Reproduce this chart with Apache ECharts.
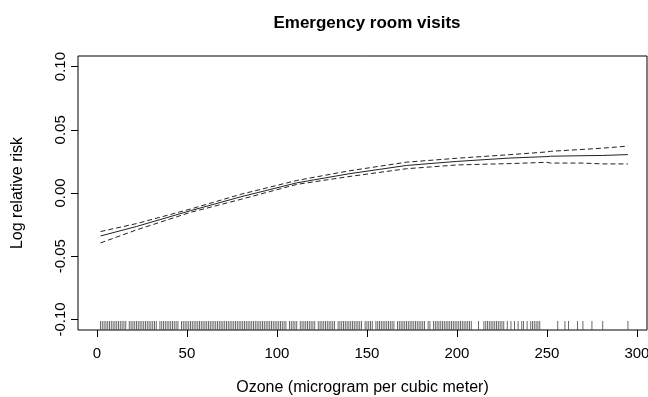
<!DOCTYPE html>
<html>
<head>
<meta charset="utf-8">
<script src="https://cdn.jsdelivr.net/npm/echarts@6/dist/echarts.min.js"></script>
<style>
html,body{margin:0;padding:0;background:#fff;}
#chart{width:648px;height:397px;}
</style>
</head>
<body>
<div id="chart"></div>
<script>
var titleText = 'Emergency room visits';
var xName = 'Ozone (microgram per cubic meter)';
var yName = 'Log relative risk';
var xTicks = [0, 50, 100, 150, 200, 250, 300];
var yTicks = [-0.10, -0.05, 0.00, 0.05, 0.10];
var X_MIN = -10.5, X_MAX = 305.6;
var Y_MIN = -0.1084, Y_MAX = 0.1084;

var ozone = [2, 22, 52, 80, 111, 140, 172, 200, 230, 250, 252, 270, 281, 295];
var center = [-0.0340, -0.0265, -0.0140, -0.0030, 0.0080, 0.0152, 0.0218, 0.0250, 0.0277, 0.0288, 0.0291, 0.0295, 0.0297, 0.0304];
var upper = [-0.0305, -0.0242, -0.0127, -0.0010, 0.0099, 0.0175, 0.0244, 0.0275, 0.0304, 0.0325, 0.0330, 0.0345, 0.0355, 0.0371];
var lower = [-0.0395, -0.0292, -0.0153, -0.0050, 0.0068, 0.0130, 0.0192, 0.0222, 0.0233, 0.0243, 0.0237, 0.0237, 0.0230, 0.0230];

var rug = [2,3,4,5,6,7,8,9,10,11,12,13,14,15,16,
18,19,20,21,22,23,24,25,26,27,28,29,30,31,32,33,
35,36,37,38,39,40,41,42,43,44,45,
47,48,49,50,51,52,53,54,55,56,57,58,59,60,61,62,63,64,65,66,67,68,69,70,71,72,73,74,75,76,77,78,79,80,
81,82,83,84,85,86,87,88,89,90,91,92,93,94,95,96,97,98,99,100,101,102,103,104,105,
107,108,109,110,111,
113,114,115,116,117,118,119,120,121,
123,124,125,126,127,128,129,130,131,132,
134,135,136,137,138,139,140,141,142,143,144,145,146,147,
149,150,151,152,153,
155,156,157,158,159,160,161,162,163,164,165,
167,168,169,170,171,172,173,174,175,176,177,178,179,180,181,182,
184,185,
187,188,189,190,191,192,193,194,195,196,197,198,199,200,201,202,203,204,205,206,207,208,
212,
215,216,217,218,219,220,221,222,223,224,225,226,
228,230,232,234,236,237,239,
241,242,243,244,245,246,
256,260,262,267,270,275,281,295];

function pairs(xs, ys){ return xs.map(function(x,i){ return [x, ys[i]]; }); }

var FONT = 'Liberation Sans, Arial, sans-serif';
var chart = echarts.init(document.getElementById('chart'), null, {renderer:'canvas'});
chart.setOption({
  animation: false,
  backgroundColor: '#fff',
  title: {
    text: titleText,
    left: 362, top: 10, textAlign: 'center',
    textStyle: {fontFamily: FONT, fontSize: 17, fontWeight: 'bold', color: '#000'}
  },
  grid: {left: 78, right: 1, top: 56, bottom: 67, outerBoundsMode: 'none', containLabel: false,
    show: true, borderColor: '#000', borderWidth: 1, backgroundColor: 'transparent'},
  xAxis: {
    type: 'value', min: X_MIN, max: X_MAX,
    name: xName, nameLocation: 'middle', nameGap: 50,
    nameTextStyle: {fontFamily: FONT, fontSize: 16, color: '#000'},
    axisLine: {show: false, onZero: false},
    splitLine: {show: false},
    axisTick: {show: true, length: 7, inside: false, customValues: xTicks, lineStyle: {color: '#000', width: 1}},
    axisLabel: {show: true, customValues: xTicks, margin: 16, fontFamily: FONT, fontSize: 15, color: '#000'}
  },
  yAxis: {
    type: 'value', min: Y_MIN, max: Y_MAX,
    name: yName, nameLocation: 'middle', nameGap: 52, nameRotate: 90,
    nameTextStyle: {fontFamily: FONT, fontSize: 16, color: '#000'},
    axisLine: {show: false, onZero: false},
    splitLine: {show: false},
    axisTick: {show: true, length: 7, inside: false, customValues: yTicks, lineStyle: {color: '#000', width: 1}},
    axisLabel: {show: true, customValues: yTicks, rotate: 90, margin: 10, fontFamily: FONT, fontSize: 15, color: '#000',
      formatter: function(v){ return v.toFixed(2); }}
  },
  series: [
    {type: 'line', data: pairs(ozone, center), showSymbol: false, lineStyle: {color: '#222', width: 1}},
    {type: 'line', data: pairs(ozone, upper), showSymbol: false, lineStyle: {color: '#222', width: 1, type: [5, 3]}},
    {type: 'line', data: pairs(ozone, lower), showSymbol: false, lineStyle: {color: '#222', width: 1, type: [5, 3]}},
    {type: 'scatter', data: rug.map(function(v){ return [v, Y_MIN]; }), symbol: 'rect', symbolSize: [1, 9], symbolOffset: [0, -4.5],
      itemStyle: {color: '#444'}, silent: true}
  ]
});
</script>
</body>
</html>
